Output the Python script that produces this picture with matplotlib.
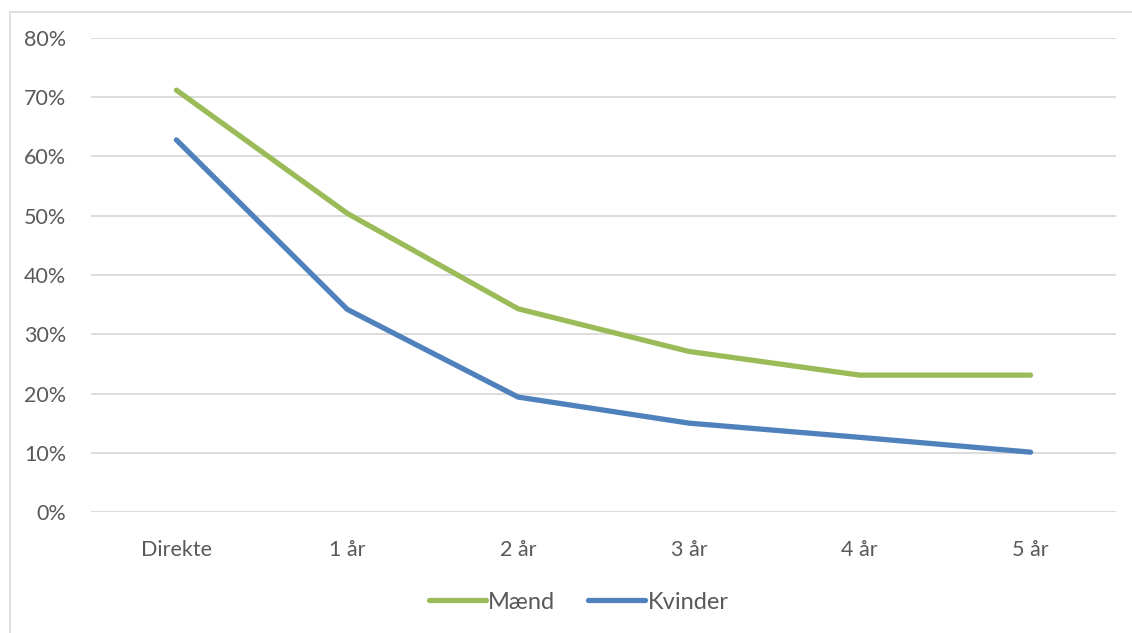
import matplotlib
matplotlib.use("Agg")
import matplotlib.pyplot as plt
from matplotlib.patches import Rectangle
from matplotlib.ticker import PercentFormatter

TEXT = "#595959"; GRID = "#d9d9d9"
C_MEN = "#9bbb59"; C_WOMEN = "#4f81bd"

categories = ["Direkte", "1 år", "2 år", "3 år", "4 år", "5 år"]
maend = [71.2, 50.4, 34.3, 27.1, 23.1, 23.1]
kvinder = [62.8, 34.2, 19.4, 15.0, 12.6, 10.1]

plt.rcParams["font.family"] = ["Lato", "DejaVu Sans"]

fig = plt.figure(figsize=(11.32, 6.33), dpi=100)
ax = fig.add_axes([91 / 1132, 1 - 512 / 633, (1116 - 91) / 1132, (512 - 38) / 633])

x = range(len(categories))
ax.plot(x, maend, color=C_MEN, lw=3.8, solid_capstyle="round",
        solid_joinstyle="round", label="Mænd", zorder=3)
ax.plot(x, kvinder, color=C_WOMEN, lw=3.8, solid_capstyle="round",
        solid_joinstyle="round", label="Kvinder", zorder=3)

ax.set_xlim(-0.5, len(categories) - 0.5)
ax.set_ylim(0, 80)
ax.set_yticks(range(0, 81, 10))
ax.yaxis.set_major_formatter(PercentFormatter(decimals=0))
ax.set_xticks(list(x), categories)
ax.tick_params(length=0, labelsize=15.5, colors=TEXT)
ax.tick_params(axis="y", pad=18)
ax.tick_params(axis="x", pad=20)
ax.grid(axis="y", color=GRID, lw=1.3)
for s in ax.spines.values():
    s.set_visible(False)

leg = ax.legend(loc="center", bbox_to_anchor=(0.476, -0.19), ncol=2, frameon=False,
                fontsize=17, handlelength=2.4, handletextpad=0.1, columnspacing=1.4)
for t in leg.get_texts():
    t.set_color(TEXT)

fig.patches.append(Rectangle((10 / 1132, -0.1), 1.2, 1 - 12 / 633 + 0.1,
                             transform=fig.transFigure, fill=False,
                             edgecolor=GRID, lw=1.2))

fig.savefig("out.png", dpi=100)
